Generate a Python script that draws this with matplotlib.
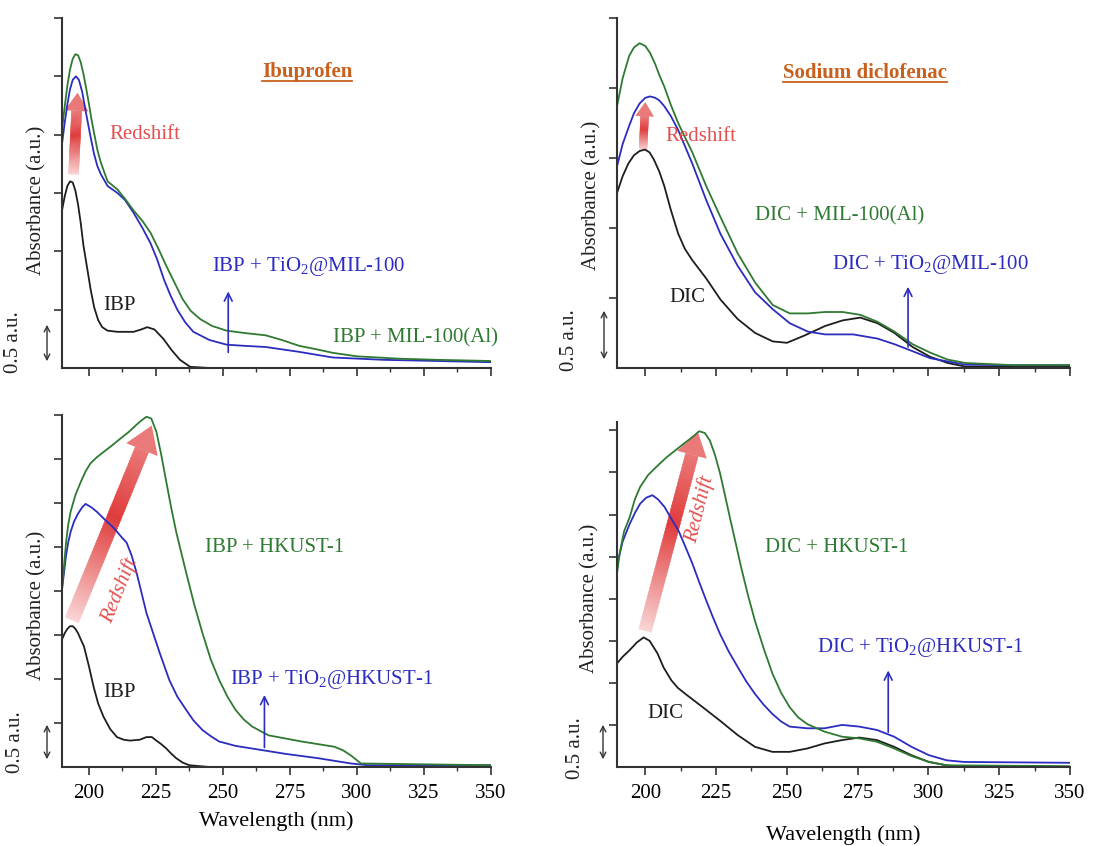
import numpy as np
import matplotlib
matplotlib.use('Agg')
import matplotlib.pyplot as plt
from matplotlib.collections import PolyCollection
from matplotlib.lines import Line2D
from matplotlib.colors import to_rgb

plt.rcParams['font.family'] = ['Liberation Serif', 'DejaVu Serif']
plt.rcParams['mathtext.default'] = 'regular'

# ---- data: Ibuprofen / MIL-100 (top left) ----
wl_tl_ibp = [190, 191, 192, 193, 194, 195, 196, 197, 198, 199.5, 200.7, 202, 203.5, 205, 207, 210.7,
             216.7, 219.5, 221.8, 224.5, 227.8, 231, 234, 237.8, 245, 260, 300, 350]
ibp_tl = [1.35, 1.47, 1.56, 1.60, 1.59, 1.52, 1.40, 1.24, 1.05, 0.84, 0.67, 0.52, 0.41, 0.35, 0.32, 0.31,
          0.31, 0.33, 0.35, 0.33, 0.25, 0.15, 0.07, 0.01, 0.0, 0.0, 0.0, 0.0]
wl_tl_tio2 = [190, 191, 192, 193, 194, 195.2, 196.3, 197.5, 199, 200.5, 201.9, 203.2, 204.5, 207, 210.7,
              213.5, 216.7, 220, 223, 225.5, 228, 230.5, 233, 236, 239, 245, 251.4, 258, 266, 278,
              291, 310, 330, 350]
tio2_tl = [1.92, 2.10, 2.26, 2.39, 2.47, 2.50, 2.47, 2.37, 2.18, 2.00, 1.84, 1.73, 1.66, 1.56, 1.50,
           1.44, 1.33, 1.20, 1.07, 0.93, 0.76, 0.62, 0.50, 0.39, 0.31, 0.24, 0.20, 0.19, 0.18, 0.14,
           0.09, 0.07, 0.06, 0.05]
wl_tl_mil = [190, 191, 192, 193, 194, 195, 196, 197, 198, 199, 200, 201, 202, 203.2, 204.5, 207, 210.7,
             213.5, 216.7, 220, 223, 226, 229, 232, 235, 238, 241.5, 246, 251.4, 258, 266, 272, 278.5,
             285, 291, 300, 315.6, 330, 350]
mil_tl = [2.04, 2.24, 2.42, 2.56, 2.65, 2.69, 2.68, 2.62, 2.52, 2.40, 2.27, 2.13, 2.01, 1.87, 1.76,
          1.60, 1.53, 1.45, 1.35, 1.26, 1.16, 1.02, 0.87, 0.73, 0.59, 0.49, 0.42, 0.36, 0.32, 0.30,
          0.28, 0.24, 0.19, 0.16, 0.13, 0.10, 0.08, 0.07, 0.06]

# ---- data: Diclofenac / MIL-100 (top right) ----
wl_tr_dic = [190, 192, 194, 196, 198, 199.9, 201.5, 203, 205, 206.7, 209, 211.6, 214, 216.6, 221.5,
             226.5, 232.6, 238.8, 245, 250, 256, 263.5, 269.7, 275.9, 282, 288, 294.4, 300.6, 306.8,
             313, 330, 350]
dic_tr = [1.25, 1.37, 1.46, 1.52, 1.55, 1.56, 1.54, 1.49, 1.40, 1.30, 1.13, 0.96, 0.85, 0.77, 0.64,
          0.49, 0.35, 0.25, 0.19, 0.18, 0.23, 0.30, 0.34, 0.36, 0.32, 0.25, 0.15, 0.08, 0.036,
          0.01, 0.01, 0.01]
wl_tr_tio2 = [190, 192, 194.3, 196, 198, 200, 201.7, 203.5, 205, 206.7, 209, 211.6, 216.6, 221.5,
              226.5, 232.6, 238.8, 245, 251, 257.4, 263.5, 273.4, 282, 288, 294.4, 300.6, 313, 330, 350]
tio2_tr = [1.44, 1.60, 1.73, 1.82, 1.89, 1.93, 1.94, 1.93, 1.91, 1.87, 1.80, 1.70, 1.46, 1.20,
           0.96, 0.73, 0.54, 0.42, 0.32, 0.26, 0.24, 0.24, 0.21, 0.17, 0.12, 0.07, 0.024, 0.02, 0.02]
wl_tr_mil = [190, 192, 194.3, 196, 198, 200, 201.7, 203.5, 205, 206.7, 209, 211.6, 216.6, 221.5,
             226.5, 232.6, 238.8, 245, 251, 257.4, 263.5, 269.7, 275.9, 282, 288, 294.4, 300.6, 306.8,
             313, 330, 350]
mil_tr = [1.87, 2.07, 2.23, 2.29, 2.32, 2.30, 2.25, 2.17, 2.09, 2.01, 1.88, 1.75, 1.54, 1.30,
          1.08, 0.82, 0.61, 0.45, 0.39, 0.39, 0.40, 0.40, 0.38, 0.33, 0.26, 0.17, 0.11, 0.06,
          0.036, 0.02, 0.02]

# ---- data: Ibuprofen / HKUST-1 (bottom left) ----
wl_bl_ibp = [190, 191, 192, 193, 194, 195, 196, 197, 198.2, 200, 201.8, 203.5, 205.5, 208, 210.5, 213,
             215.4, 219, 221.5, 223.5, 225.2, 227, 228.9, 230.8, 232.6, 235, 237.5, 245, 300, 350]
ibp_bl = [1.45, 1.52, 1.57, 1.60, 1.60, 1.57, 1.52, 1.45, 1.37, 1.15, 0.91, 0.72, 0.57, 0.43, 0.34, 0.31,
          0.30, 0.31, 0.34, 0.34, 0.30, 0.26, 0.21, 0.15, 0.10, 0.05, 0.02, 0.0, 0.0, 0.0]
wl_bl_tio2 = [190, 190.8, 191.5, 192.3, 193.2, 194.5, 196, 197.5, 198.8, 201, 203, 206, 209.2, 212,
              214.1, 216, 217.8, 219.5, 221.5, 224, 226.4, 230, 233, 236.3, 239, 242.4, 245.5, 248.6,
              254.7, 260.9, 273.2, 285.5, 297.8, 304, 350]
tio2_bl = [2.02, 2.22, 2.40, 2.55, 2.67, 2.79, 2.88, 2.95, 2.99, 2.95, 2.90, 2.81, 2.72, 2.62,
           2.55, 2.40, 2.21, 2.00, 1.75, 1.52, 1.30, 0.99, 0.80, 0.65, 0.53, 0.42, 0.35, 0.29,
           0.24, 0.21, 0.15, 0.10, 0.04, 0.02, 0.02]
wl_bl_hk = [190, 190.8, 191.5, 192.3, 193.2, 195, 197, 198.8, 200.6, 203, 205.5, 208.5, 211.7, 215,
            217.8, 219.7, 221.5, 223.3, 225.2, 227, 228.9, 230.7, 232.6, 236.3, 239.3, 242.4, 245.5,
            248.6, 251.7, 254.7, 257.8, 260.9, 267, 279.3, 291.6, 294.8, 297.8, 301.5, 350]
hk_bl = [2.02, 2.30, 2.55, 2.75, 2.90, 3.09, 3.24, 3.36, 3.45, 3.52, 3.58, 3.65, 3.73, 3.81,
         3.89, 3.94, 3.98, 3.96, 3.81, 3.55, 3.24, 2.95, 2.67, 2.21, 1.85, 1.52, 1.22, 0.99,
         0.80, 0.65, 0.54, 0.46, 0.36, 0.29, 0.23, 0.19, 0.13, 0.04, 0.02]

# ---- data: Diclofenac / HKUST-1 (bottom right) ----
wl_br_dic = [190, 192, 194.5, 197, 199.4, 201.5, 204.3, 206.5, 209.2, 211.5, 214.1, 220.3, 226.4, 232.6,
             238.7, 244.9, 251, 257.2, 263.3, 269.5, 275.6, 281.8, 287.9, 294, 300.2, 306.4, 312.5, 350]
dic_br = [1.23, 1.31, 1.39, 1.48, 1.54, 1.50, 1.35, 1.18, 1.03, 0.94, 0.87, 0.71, 0.55, 0.38,
          0.24, 0.18, 0.18, 0.22, 0.28, 0.32, 0.35, 0.32, 0.24, 0.14, 0.06, 0.02, 0.0, 0.0]
wl_br_tio2 = [190, 192, 194.5, 196.5, 198.2, 200.3, 202.5, 204.5, 206.8, 209, 211.7, 214, 216.6, 219,
              221.5, 224, 226.4, 229.5, 232.6, 235.6, 238.7, 241.8, 244.9, 248, 251, 257.2, 263.3,
              269.5, 275.6, 281.8, 287.9, 294, 300.2, 306.4, 312.5, 350]
tio2_br = [2.40, 2.68, 2.89, 3.03, 3.13, 3.20, 3.23, 3.18, 3.09, 2.96, 2.81, 2.63, 2.42, 2.20,
           1.98, 1.77, 1.58, 1.37, 1.19, 1.02, 0.87, 0.74, 0.63, 0.54, 0.48, 0.46, 0.46,
           0.50, 0.48, 0.44, 0.36, 0.24, 0.14, 0.08, 0.06, 0.05]
wl_br_hk = [190, 191, 192.5, 194.5, 196.3, 198.2, 201, 204.3, 207.5, 210.5, 213.5, 216.6, 219, 221,
            222.8, 224.6, 226.4, 228.2, 230.1, 232, 233.8, 236.2, 238.7, 241.8, 244.9, 248, 251,
            254, 257.2, 263.3, 269.5, 275.6, 281.8, 287.9, 294, 300.2, 306.4, 350]
hk_br = [2.30, 2.55, 2.80, 2.97, 3.18, 3.33, 3.47, 3.58, 3.68, 3.76, 3.84, 3.92, 3.99, 3.97,
         3.88, 3.71, 3.49, 3.22, 2.93, 2.65, 2.38, 2.05, 1.74, 1.41, 1.11, 0.88, 0.71,
         0.59, 0.51, 0.42, 0.36, 0.34, 0.30, 0.22, 0.13, 0.06, 0.02, 0.01]

BLACK = '#1e1e1e'
BLUE = '#2c2cc0'
GREEN = '#2f7a32'
RED = '#e03c3c'
TITLE = '#c8601e'

W, H = 1093, 846
fig = plt.figure(figsize=(W / 100, H / 100), dpi=100)


def px_axes(l, t, r, b):
    return fig.add_axes([l / W, 1 - b / H, (r - l) / W, (b - t) / H])


def style(ax, ytop, labels):
    ax.set_xlim(190, 350)
    ax.set_ylim(0, ytop)
    for s in ['top', 'right']:
        ax.spines[s].set_visible(False)
    for s in ['left', 'bottom']:
        ax.spines[s].set_linewidth(1.5)
        ax.spines[s].set_color('#333333')
    ax.set_xticks(np.arange(200, 351, 25))
    ax.set_xticks(np.arange(212.5, 350, 25), minor=True)
    ax.set_yticks(np.arange(0.5, ytop + 0.01, 0.5))
    ax.set_yticklabels([])
    ax.tick_params(axis='both', which='major', direction='out', length=6, width=1.2, color='#333333',
                   labelsize=15, pad=6)
    ax.tick_params(axis='x', which='minor', direction='out', length=3, width=1.0, color='#333333')
    if not labels:
        ax.set_xticklabels([])


def red_arrow(ax, x0, y0, x1, y1, width_px):
    # shaft as a stack of small quads with a colour gradient, head as a triangle
    p0 = ax.transData.transform((x0, y0))
    p1 = ax.transData.transform((x1, y1))
    d = p1 - p0
    u = d / np.hypot(*d)
    nvec = np.array([-u[1], u[0]])
    hl = 1.3 * width_px
    pe = p1 - u * hl
    hw = width_px * 0.36
    n = 60
    t = np.linspace(0, 1, n + 1)
    light = np.array(to_rgb('#f9d4d4'))
    red = np.array(to_rgb(RED))
    inv = ax.transData.inverted()
    quads, cols = [], []
    for i in range(n):
        a = p0 + (pe - p0) * t[i]
        b = p0 + (pe - p0) * min(1.0, t[i + 1] + 0.004)
        q = np.array([a + nvec * hw, b + nvec * hw, b - nvec * hw, a - nvec * hw])
        quads.append(inv.transform(q))
        tt = t[i]
        k = tt / 0.6 if tt < 0.6 else 1 - 0.4 * (tt - 0.6) / 0.4
        cols.append(light + (red - light) * k)
    pc = PolyCollection(quads, facecolors=cols, edgecolors=cols, linewidths=0.3, zorder=1)
    ax.add_collection(pc)
    head = np.array([pe + nvec * width_px * 0.85, p1, pe - nvec * width_px * 0.85])
    head_d = inv.transform(head)
    ax.fill(head_d[:, 0], head_d[:, 1], color=light + (red - light) * 0.6, lw=0, zorder=1)


def blue_arrow(ax, x, y0, y1):
    ax.annotate('', xy=(x, y1), xytext=(x, y0),
                arrowprops=dict(arrowstyle='->', color=BLUE, lw=1.2, mutation_scale=14))


def side_labels(x_abs, y_abs, x_half, y_half, x_arr, y_a0, y_a1):
    fig.text(x_abs / W, 1 - y_abs / H, 'Absorbance (a.u.)', rotation=90, ha='center', va='center',
             fontsize=15, color='#222222')
    fig.text(x_half / W, 1 - y_half / H, '0.5 a.u.', rotation=90, ha='center', va='center',
             fontsize=15, color='#222222')
    fig.add_artist(plt.Annotation('', xy=(x_arr / W, 1 - y_a0 / H), xytext=(x_arr / W, 1 - y_a1 / H),
                                  xycoords='figure fraction', textcoords='figure fraction',
                                  arrowprops=dict(arrowstyle='<->', color='#333333', lw=1.0,
                                                  mutation_scale=10)))


titles = []

# ---------- top left ----------
ax = px_axes(62, 18, 491, 368)
style(ax, 3.0, False)
red_arrow(ax, 194.3, 1.66, 195.8, 2.36, 14)
ax.plot(wl_tl_ibp, ibp_tl, color=BLACK, lw=1.3)
ax.plot(wl_tl_tio2, tio2_tl, color=BLUE, lw=1.3)
ax.plot(wl_tl_mil, mil_tl, color=GREEN, lw=1.3)
titles.append(ax.text(281.4, 2.54, 'Ibuprofen', color=TITLE, fontsize=15, fontweight='bold',
                      ha='center', va='center'))
ax.text(221, 2.0, 'Redshift', color=RED, fontsize=15, ha='center', va='center', alpha=0.9)
ax.text(282, 0.87, 'IBP + TiO$_2$@MIL-100', color=BLUE, fontsize=15, ha='center', va='center')
ax.text(211.6, 0.54, 'IBP', color=BLACK, fontsize=15, ha='center', va='center')
ax.text(322, 0.26, 'IBP + MIL-100(Al)', color=GREEN, fontsize=15, ha='center', va='center')
blue_arrow(ax, 252, 0.11, 0.68)
side_labels(37, 200, 14, 342, 47, 322, 364)

# ---------- top right ----------
ax = px_axes(617, 18, 1070, 368)
style(ax, 2.5, False)
red_arrow(ax, 199.2, 1.56, 200.0, 1.90, 11)
ax.plot(wl_tr_dic, dic_tr, color=BLACK, lw=1.3)
ax.plot(wl_tr_tio2, tio2_tr, color=BLUE, lw=1.3)
ax.plot(wl_tr_mil, mil_tr, color=GREEN, lw=1.3)
titles.append(ax.text(277.6, 2.11, 'Sodium diclofenac', color=TITLE, fontsize=15, fontweight='bold',
                      ha='center', va='center'))
ax.text(219.5, 1.65, 'Redshift', color=RED, fontsize=15, ha='center', va='center', alpha=0.9)
ax.text(268.8, 1.09, 'DIC + MIL-100(Al)', color=GREEN, fontsize=15, ha='center', va='center')
ax.text(300.6, 0.74, 'DIC + TiO$_2$@MIL-100', color=BLUE, fontsize=15, ha='center', va='center')
ax.text(214.7, 0.50, 'DIC', color=BLACK, fontsize=15, ha='center', va='center')
blue_arrow(ax, 292.8, 0.13, 0.60)
side_labels(592, 195, 570, 340, 604, 308, 362)

# ---------- bottom left ----------
ax = px_axes(62, 415, 491, 767)
style(ax, 4.0, True)
red_arrow(ax, 193.7, 1.67, 223.5, 3.88, 20)
ax.plot(wl_bl_ibp, ibp_bl, color=BLACK, lw=1.3)
ax.plot(wl_bl_tio2, tio2_bl, color=BLUE, lw=1.3)
ax.plot(wl_bl_hk, hk_bl, color=GREEN, lw=1.3)
ax.text(211.6, 2.01, 'Redshift', color=RED, fontsize=15, style='italic', rotation=68,
        ha='center', va='center', alpha=0.9)
ax.text(269.2, 2.49, 'IBP + HKUST-1', color=GREEN, fontsize=15, ha='center', va='center')
ax.text(290.7, 0.99, 'IBP + TiO$_2$@HKUST-1', color=BLUE, fontsize=15, ha='center', va='center')
ax.text(211.6, 0.85, 'IBP', color=BLACK, fontsize=15, ha='center', va='center')
blue_arrow(ax, 265.5, 0.19, 0.85)
ax.set_xlabel('Wavelength (nm)', fontsize=16, labelpad=6)
side_labels(37, 605, 15, 742, 47, 722, 762)

# ---------- bottom right ----------
ax = px_axes(617, 422, 1070, 767)
style(ax, 4.1, True)
red_arrow(ax, 199.9, 1.62, 218.6, 3.98, 18)
ax.plot(wl_br_dic, dic_br, color=BLACK, lw=1.3)
ax.plot(wl_br_tio2, tio2_br, color=BLUE, lw=1.3)
ax.plot(wl_br_hk, hk_br, color=GREEN, lw=1.3)
ax.text(219.3, 3.06, 'Redshift', color=RED, fontsize=15, style='italic', rotation=76,
        ha='center', va='center', alpha=0.9)
ax.text(267.7, 2.61, 'DIC + HKUST-1', color=GREEN, fontsize=15, ha='center', va='center')
ax.text(297, 1.42, 'DIC + TiO$_2$@HKUST-1', color=BLUE, fontsize=15, ha='center', va='center')
ax.text(207, 0.64, 'DIC', color=BLACK, fontsize=15, ha='center', va='center')
blue_arrow(ax, 285.8, 0.38, 1.18)
ax.set_xlabel('Wavelength (nm)', fontsize=16, labelpad=16)
side_labels(590, 598, 575, 748, 603, 722, 762)

# underline the drug names
fig.canvas.draw()
renderer = fig.canvas.get_renderer()
for t in titles:
    bb = t.get_window_extent(renderer)
    yl = (bb.y0 + 1) / H
    fig.add_artist(Line2D([bb.x0 / W, bb.x1 / W], [yl, yl], transform=fig.transFigure,
                          color=TITLE, lw=1.3))

fig.savefig('out.png', dpi=100)
